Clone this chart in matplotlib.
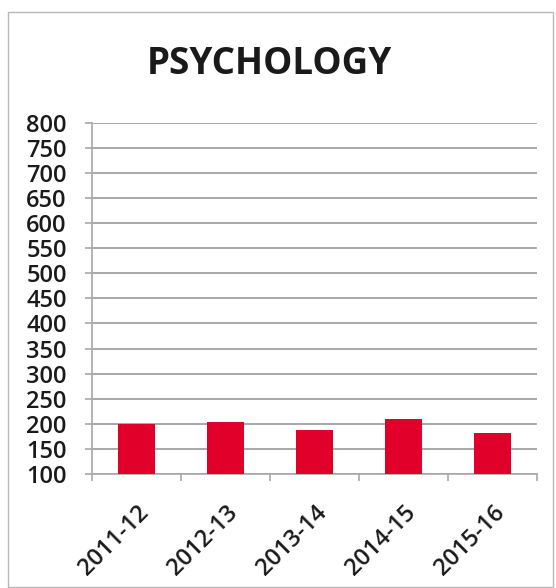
import matplotlib
matplotlib.use("Agg")
import matplotlib.pyplot as plt
from matplotlib.patches import Rectangle

categories = ["2011-12", "2012-13", "2013-14", "2014-15", "2015-16"]
values = [200, 203, 187, 209, 181]
yticks = list(range(100, 801, 50))

fig = plt.figure(figsize=(5.56, 5.88), dpi=100)
fig.patch.set_facecolor("white")
fig.patches.append(Rectangle((8/556, 1/588), 545/556, 575/588, transform=fig.transFigure,
                             fill=False, edgecolor="#b8b8b8", linewidth=1.0))

ax = fig.add_axes([0.165, 0.194, 0.801, 0.597])
x = list(range(len(categories)))
ax.bar(x, values, width=0.42, color="#e0002a", zorder=3)
ax.set_ylim(100, 800)
ax.set_xlim(-0.5, len(categories) - 0.5)
ax.set_yticks(yticks)
ax.set_yticklabels([str(v) for v in yticks], fontsize=17, fontweight="semibold",
                   family="Open Sans", color="#1a1a1a")
ax.yaxis.grid(True, color="#a8a8a8", linewidth=1.4, zorder=0)
ax.tick_params(axis="y", length=5, color="#a8a8a8", width=1.2, pad=13)
ax.set_xticks(x)
ax.set_xticklabels(categories, rotation=45, ha="right", rotation_mode="anchor",
                   fontsize=17, fontweight="semibold", family="Open Sans", color="#1a1a1a")
ax.tick_params(axis="x", length=0, pad=19)
for lbl in ax.get_xticklabels():
    lbl.set_x(lbl.get_position()[0])
ax.set_xticks([i + 0.5 for i in range(-1, len(categories))], minor=True)
ax.tick_params(axis="x", which="minor", length=5, color="#a8a8a8", width=1.2)
for s in ["top", "right"]:
    ax.spines[s].set_visible(False)
ax.spines["left"].set_color("#a8a8a8")
ax.spines["bottom"].set_color("#a8a8a8")
ax.spines["left"].set_linewidth(1.2)
ax.spines["bottom"].set_linewidth(1.2)

fig.text(0.484, 0.892, "PSYCHOLOGY", ha="center", va="center", fontsize=26.5,
         fontweight="bold", family="Open Sans", color="#1a1a1a")

fig.savefig("out.png", dpi=100)
